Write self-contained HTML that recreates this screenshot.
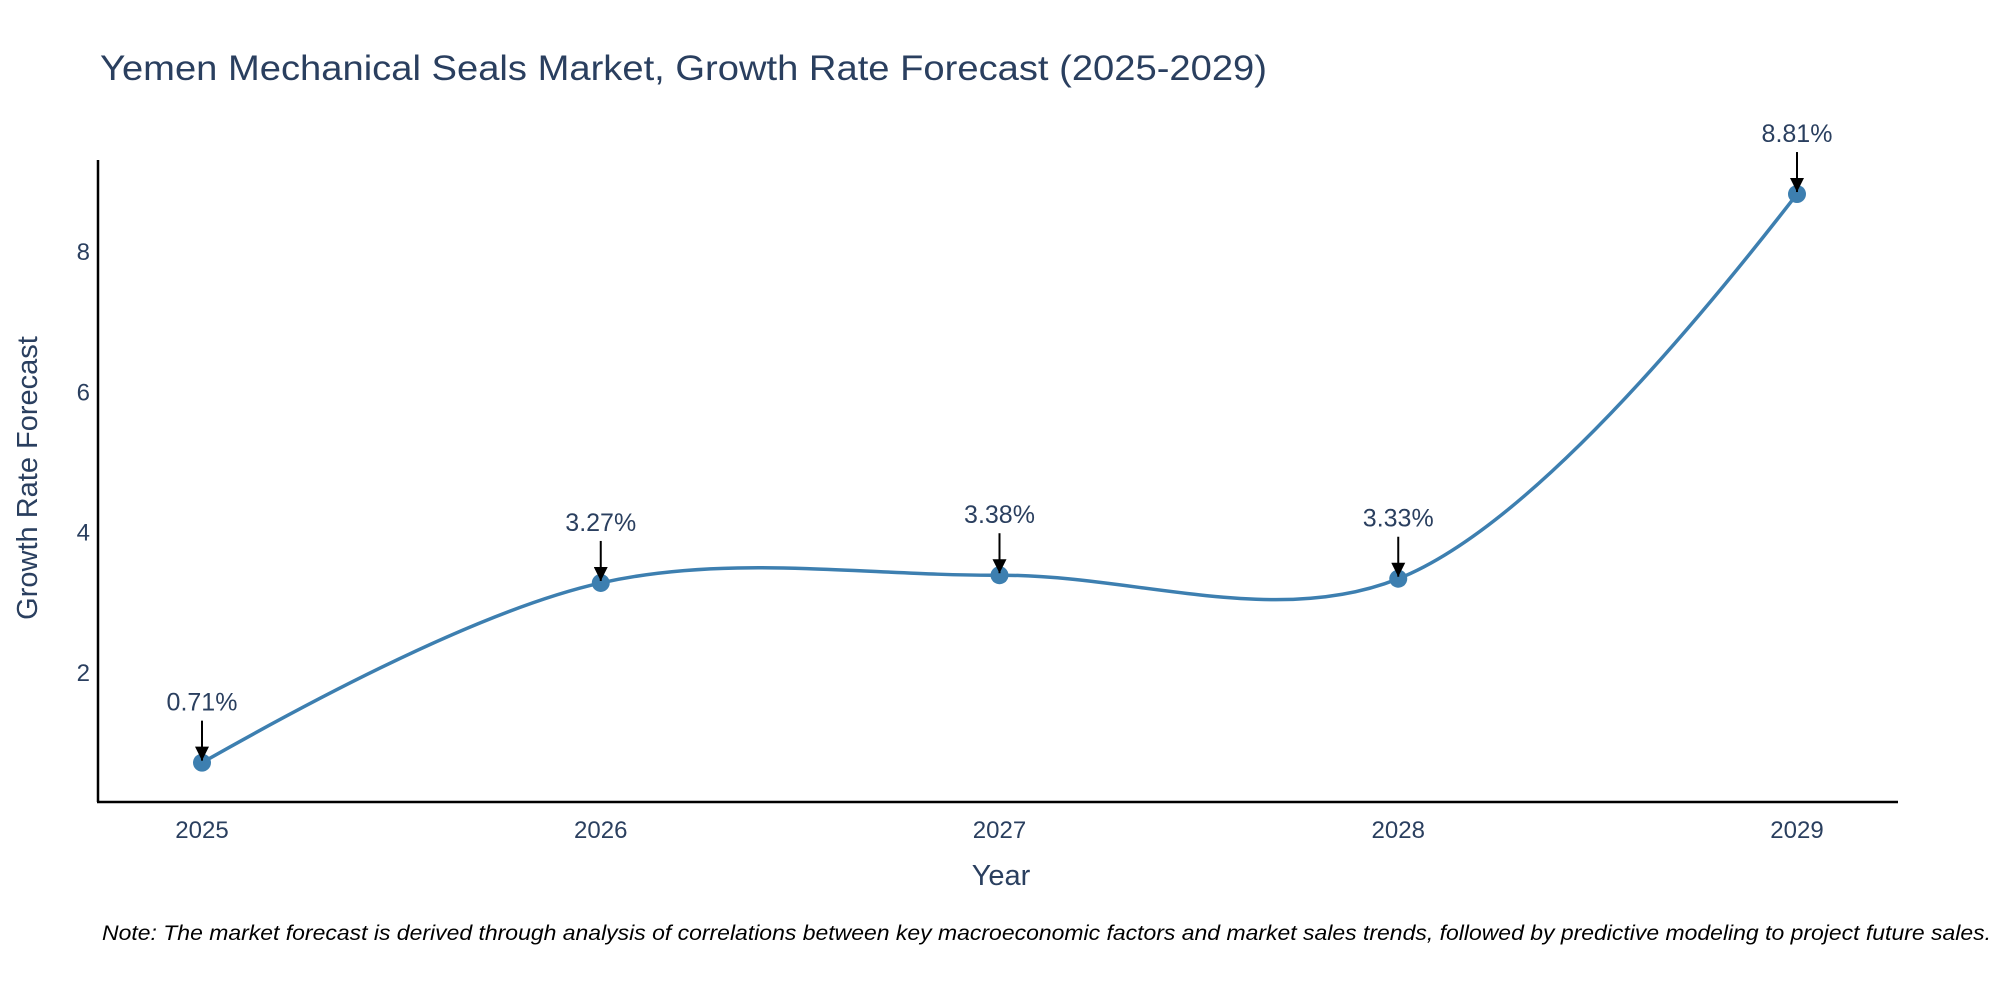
<!DOCTYPE html>
<html><head><meta charset="utf-8"><style>
html,body{margin:0;padding:0;background:#fff;}
svg{display:block;font-family:"Liberation Sans",sans-serif;}
</style></head><body>
<svg id="chart" width="2000" height="1000" viewBox="0 0 2000 1000">
<defs><marker id="ah" viewBox="0 0 10 10" refX="10" refY="5" markerWidth="14" markerHeight="14" markerUnits="userSpaceOnUse" orient="auto"><path d="M0,0 L10,5 L0,10 Z" fill="#000"/></marker></defs>
<text x="100" y="80" font-size="35" fill="#2a3f5f" textLength="1167" lengthAdjust="spacingAndGlyphs">Yemen Mechanical Seals Market, Growth Rate Forecast (2025-2029)</text>
<g id="yticks"></g>
<g id="xticks"></g>
<line x1="98" y1="160" x2="98" y2="802" stroke="#000" stroke-width="2.5"/>
<line x1="97" y1="802" x2="1898" y2="802" stroke="#000" stroke-width="2.5"/>
<text transform="translate(37,478) rotate(-90)" text-anchor="middle" font-size="29" fill="#2a3f5f">Growth Rate Forecast</text>
<text x="1001" y="885" text-anchor="middle" font-size="29" fill="#2a3f5f">Year</text>
<g id="series"></g>
<text x="102" y="940" font-size="21" font-style="italic" fill="#000" textLength="1889" lengthAdjust="spacingAndGlyphs">Note: The market forecast is derived through analysis of correlations between key macroeconomic factors and market sales trends, followed by predictive modeling to project future sales.</text>
</svg>
<script>
const years = [2025, 2026, 2027, 2028, 2029];
const growth = [0.71, 3.27, 3.38, 3.33, 8.81];
const labels = ["0.71%", "3.27%", "3.38%", "3.33%", "8.81%"];
const yTicks = [2, 4, 6, 8];

const NS = "http://www.w3.org/2000/svg";
function xs(v){ return 202 + (v - 2025) * (1797 - 202) / 4; }
function ys(v){ return 812.5 - v * 70.2; }
function mk(tag, attrs, parent){ const e = document.createElementNS(NS, tag); for (const k in attrs) e.setAttribute(k, attrs[k]); parent.appendChild(e); return e; }

const yt = document.getElementById('yticks');
yTicks.forEach(t => {
  const e = mk('text', {x: 90, y: ys(t) + 9, 'text-anchor': 'end', 'font-size': 24, fill: '#2a3f5f'}, yt);
  
  
  e.textContent = t;
});
const xt = document.getElementById('xticks');
years.forEach(y => {
  const e = mk('text', {x: xs(y), y: 838, 'text-anchor': 'middle', 'font-size': 24, fill: '#2a3f5f'}, xt);
  
  
  e.textContent = y;
});

const pts = years.map((y, i) => [xs(y), ys(growth[i])]);
function tangent(p0, p1, p2, s){
  const d1x = p0[0]-p1[0], d1y = p0[1]-p1[1], d2x = p2[0]-p1[0], d2y = p2[1]-p1[1];
  const d1a = Math.pow(d1x*d1x + d1y*d1y, 0.25), d2a = Math.pow(d2x*d2x + d2y*d2y, 0.25);
  const nx = (d2a*d2a*d1x - d1a*d1a*d2x) * s, ny = (d2a*d2a*d1y - d1a*d1a*d2y) * s;
  const den1 = 3*d2a*(d1a+d2a), den2 = 3*d1a*(d1a+d2a);
  return [[p1[0] + nx/den1, p1[1] + ny/den1], [p1[0] - nx/den2, p1[1] - ny/den2]];
}
const tg = [];
for (let i = 1; i < pts.length - 1; i++) tg.push(tangent(pts[i-1], pts[i], pts[i+1], 1.0));
let d = 'M' + pts[0] + 'Q' + tg[0][0] + ' ' + pts[1];
for (let i = 2; i < pts.length - 1; i++) d += 'C' + tg[i-2][1] + ' ' + tg[i-1][0] + ' ' + pts[i];
d += 'Q' + tg[pts.length-3][1] + ' ' + pts[pts.length-1];
const sg = document.getElementById('series');
const line = mk('path', {d: d, fill: 'none', stroke: '#3d7fb0', 'stroke-width': 3.5}, sg);


pts.forEach((p, i) => {
  const c = mk('circle', {cx: p[0], cy: p[1], r: 9, fill: '#3d7fb0'}, sg);
  
  
  const a = mk('line', {x1: p[0], y1: p[1] - 42, x2: p[0], y2: p[1] - 2, stroke: '#000', 'stroke-width': 2, 'marker-end': 'url(#ah)'}, sg);
  
  
  const t = mk('text', {x: p[0], y: p[1] - 52, 'text-anchor': 'middle', 'font-size': 25, fill: '#2a3f5f'}, sg);
  
  
  t.textContent = labels[i];
});
</script>
</body></html>
